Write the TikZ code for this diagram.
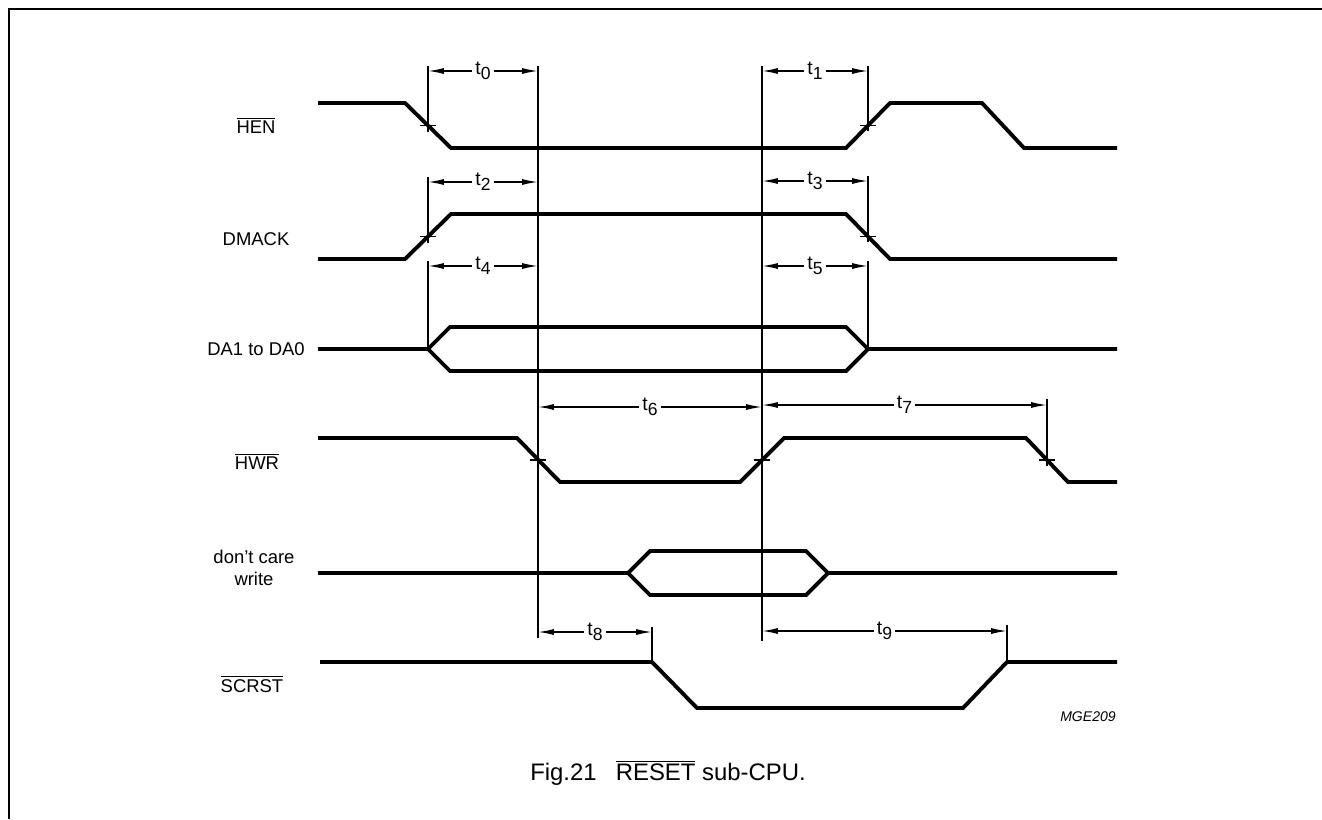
\documentclass[tikz,border=0pt]{standalone}
\usepackage{fontspec}
\setmainfont{Liberation Sans}
\usetikzlibrary{arrows.meta}

\newcommand{\ovl}[1]{$\overline{\mbox{#1}}$}
\newcommand{\tsub}[1]{t\raisebox{-3pt}{\fontsize{10}{10}\selectfont #1}}

\tikzset{
  sig/.style={line width=2.2pt, line join=miter},
  thin/.style={line width=0.8pt},
  dim/.style={thin, {Latex[length=9pt,width=3.4pt]}-{Latex[length=9pt,width=3.4pt]}},
  tlab/.style={fill=white, inner sep=1.8pt, anchor=base, yshift=-1.8pt, font=\fontsize{11}{12}\selectfont},
  sname/.style={anchor=base, font=\fontsize{10.5}{12.5}\selectfont},
}

\begin{document}
\begin{tikzpicture}[x=0.02cm, y=-0.02cm]
  \useasboundingbox (0,0) rectangle (1322,819);
  % frame
  \draw[line width=1.7pt] (9,819) -- (9,9) -- (1322,9);
  % signal names
  \node[sname] (hen) at (256,133) {\ovl{HEN}};
  \node[sname] (dmack) at (256,245) {DMACK};
  \node[sname] (da) at (256,355) {DA1 to DA0};
  \node[sname] (hwr) at (257,469) {\ovl{HWR}};
  \node[sname, align=center] (dc) at (254,585) {don't care\\write};
  \node[sname] (scrst) at (252,692) {\ovl{SCRST}};
  % waveforms
  \draw[sig] (318,103) -- (405,103) -- (451,148) -- (846,148) -- (890,103) -- (982,103) -- (1024,148) -- (1117,148);
  \draw[sig] (318,259) -- (405,259) -- (451,214) -- (846,214) -- (890,259) -- (1117,259);
  \draw[sig] (318,349) -- (428,349) -- (450,327) -- (846,327) -- (868,349) -- (1117,349);
  \draw[sig] (428,349) -- (450,371) -- (846,371) -- (868,349);
  \draw[sig] (318,438) -- (517,438) -- (560,482) -- (740,482) -- (784,438) -- (1026,438) -- (1068,482) -- (1117,482);
  \draw[sig] (318,573) -- (628,573) -- (650,551) -- (806,551) -- (828,573) -- (1117,573);
  \draw[sig] (628,573) -- (650,595) -- (806,595) -- (828,573);
  \draw[sig] (320,662) -- (652,662) -- (697,708) -- (963,708) -- (1007,662) -- (1117,662);
  % reference lines
  \draw[thin] (538,66) -- (538,638);
  \draw[thin] (762,66) -- (762,641);
  \foreach \x/\ya/\yb in {428/66/132, 868/66/131, 428/177/243, 868/176/242,
                          428/261/349, 868/261/349, 1047/399/466, 652/627/662, 1007/625/662} {
    \draw[thin] (\x,\ya) -- (\x,\yb);
  };
  % crossing marks
  \foreach \x/\y in {428/125.5, 868/125.5, 428/236.5, 868/236.5, 538/460, 762/460, 1047/460} {
    \draw[thin] (\x-8,\y) -- (\x+8,\y);
  };
  % timing arrows
  \foreach \xa/\xb/\yy/\n in {428/538/71/0, 762/868/71/1, 428/538/182/2, 762/868/181/3,
                              428/538/266/4, 762/868/266/5, 538/762/407/6, 762/1047/405/7,
                              538/652/632/8, 762/1007/631/9} {
    \draw[dim] (\xa,\yy) -- node[tlab] (t\n) {\tsub{\n}} (\xb,\yy);
  };
  % code and caption
  \node[font=\fontsize{8}{9}\selectfont\itshape] (code) at (1088,717) {MGE209};
  \node[font=\fontsize{13.6}{15}\selectfont] (cap) at (668,773) {Fig.21\hspace{0.8em}\ovl{RESET} sub-CPU.};
\end{tikzpicture}
\end{document}
